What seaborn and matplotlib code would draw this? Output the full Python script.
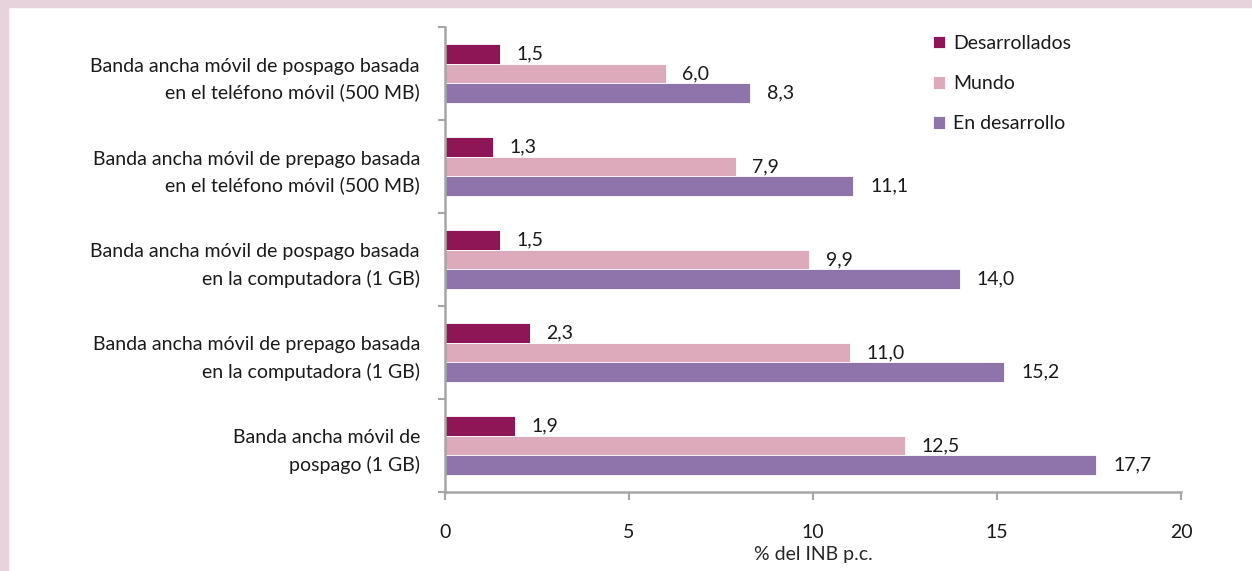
import pandas as pd
import matplotlib
matplotlib.use("Agg")
import matplotlib.pyplot as plt
from matplotlib.patches import Rectangle
import seaborn as sns

categories = [
    "Banda ancha móvil de pospago basada\nen el teléfono móvil (500 MB)",
    "Banda ancha móvil de prepago basada\nen el teléfono móvil (500 MB)",
    "Banda ancha móvil de pospago basada\nen la computadora (1 GB)",
    "Banda ancha móvil de prepago basada\nen la computadora (1 GB)",
    "Banda ancha móvil de\npospago (1 GB)",
]
series = ["Desarrollados", "Mundo", "En desarrollo"]
desarrollados = [1.5, 1.3, 1.5, 2.3, 1.9]
mundo = [6.0, 7.9, 9.9, 11.0, 12.5]
en_desarrollo = [8.3, 11.1, 14.0, 15.2, 17.7]
colors = ["#8E1556", "#DDAABC", "#8F74AB"]

df = pd.DataFrame({
    "cat": categories * 3,
    "grupo": [s for s in series for _ in categories],
    "valor": desarrollados + mundo + en_desarrollo,
})

sns.set_style("white")
plt.rcParams["font.family"] = ["Lato", "DejaVu Sans"]
plt.rcParams["text.color"] = "#1a1a1a"
plt.rcParams["xtick.color"] = "#A6A6A6"
plt.rcParams["xtick.labelcolor"] = "#1a1a1a"
plt.rcParams["ytick.labelcolor"] = "#1a1a1a"

fig = plt.figure(figsize=(12.52, 5.71), dpi=100)
fig.patches.append(Rectangle((0, 1 - 7 / 571), 1, 7 / 571, transform=fig.transFigure,
                             color="#E6D3DC", zorder=0))
fig.patches.append(Rectangle((0, 0), 8 / 1252, 1, transform=fig.transFigure,
                             color="#E6D3DC", zorder=0))
ax = fig.add_axes([445 / 1252, 1 - 492 / 571, 736 / 1252, 465 / 571])

sns.barplot(data=df, y="cat", x="valor", hue="grupo", orient="h",
            palette=colors, saturation=1, width=0.63, gap=0,
            edgecolor="white", linewidth=0.6, ax=ax, legend=True)

for cont in ax.containers:
    labels = [f"{v:.1f}".replace(".", ",") for v in cont.datavalues]
    ax.bar_label(cont, labels=labels, padding=12, fontsize=14)

ax.set_xlim(0, 20)
ax.set_xticks([0, 5, 10, 15, 20])
ax.set_ylim(len(categories) - 0.5, -0.5)
ax.set_yticks(range(len(categories)))
ax.set_yticks([i - 0.5 for i in range(len(categories) + 1)], minor=True)
ax.tick_params(axis="y", which="major", length=0, pad=18, labelsize=14)
ax.tick_params(axis="y", which="minor", length=5, width=1.5, color="#A6A6A6", left=True)
ax.tick_params(axis="x", which="major", length=6, width=1.5, color="#A6A6A6",
               pad=17, labelsize=14, bottom=True)
for lab in ax.get_yticklabels():
    lab.set_horizontalalignment("right")
    lab.set_multialignment("right")
    lab.set_linespacing(1.6)
ax.set_ylabel("")
ax.set_xlabel("% del INB p.c.", fontsize=14, labelpad=3.5)
sns.despine(ax=ax)
for s in ["left", "bottom"]:
    ax.spines[s].set_color("#A6A6A6")
    ax.spines[s].set_linewidth(1.8)

ax.legend(loc="upper left", bbox_to_anchor=(0.652, 1.0), frameon=False,
          fontsize=14, handlelength=0.62, handleheight=0.62, handletextpad=0.45,
          labelspacing=1.2, borderaxespad=0)

fig.savefig("out.png", dpi=100, facecolor="white")
